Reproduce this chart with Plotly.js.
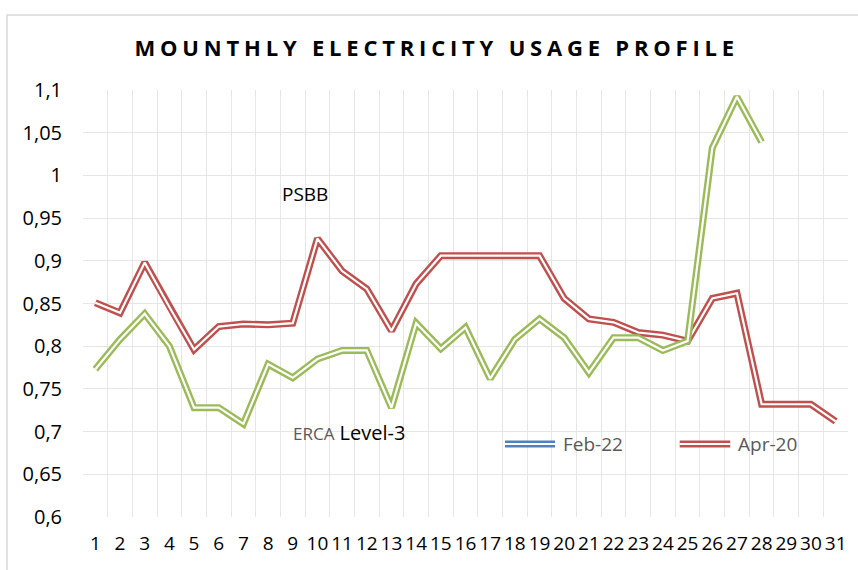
<!DOCTYPE html>
<html>
<head>
<meta charset="utf-8">
<script src="https://cdn.plot.ly/plotly-3.0.1.min.js"></script>
<style>html,body{margin:0;padding:0;background:#fff;}#chart{width:858px;height:570px;}</style>
</head>
<body>
<div id="chart"></div>
<script>
var days = ["1","2","3","4","5","6","7","8","9","10","11","12","13","14","15","16","17","18","19","20","21","22","23","24","25","26","27","28","29","30","31"];
var feb22 = [0.773,0.808,0.838,0.800,0.728,0.728,0.709,0.779,0.763,0.785,0.795,0.795,0.728,0.827,0.797,0.822,0.762,0.808,0.832,0.810,0.769,0.810,0.810,0.795,0.806,1.032,1.092,1.039];
var apr20 = [0.851,0.839,0.898,0.846,0.796,0.823,0.826,0.825,0.827,0.926,0.888,0.867,0.818,0.873,0.906,0.906,0.906,0.906,0.906,0.856,0.832,0.828,0.816,0.813,0.806,0.856,0.862,0.732,0.732,0.732,0.712];
var yTickVals = [0.6,0.65,0.7,0.75,0.8,0.85,0.9,0.95,1,1.05,1.1];
var yTickText = ["0,6","0,65","0,7","0,75","0,8","0,85","0,9","0,95","1","1,05","1,1"];

var GREEN = "#9BBB59", RED = "#C0504D", BLUE = "#4F81BD";

function dbl(y, color) {
  var xs = days.slice(0, y.length);
  return [
    {type:"scatter", mode:"lines", x:xs, y:y, line:{color:color, width:7}, showlegend:false, hoverinfo:"skip"},
    {type:"scatter", mode:"lines", x:xs, y:y, line:{color:"#ffffff", width:2.2}, showlegend:false, hoverinfo:"skip"}
  ];
}

var data = [].concat(dbl(apr20, RED), dbl(feb22, GREEN));

function legLine(x0, x1, y, color) {
  return [
    {type:"line", xref:"paper", yref:"paper", x0:x0, x1:x1, y0:y, y1:y, line:{color:color, width:7}},
    {type:"line", xref:"paper", yref:"paper", x0:x0, x1:x1, y0:y, y1:y, line:{color:"#ffffff", width:2.2}}
  ];
}

var shapes = [
  {type:"rect", xref:"paper", yref:"paper", x0:-0.0993, x1:1.2, y0:-0.3, y1:1.1756, line:{color:"#d9d9d9", width:1.5}, fillcolor:"rgba(0,0,0,0)", layer:"below"}
].concat(legLine(0.5516, 0.617, 0.171, BLUE), legLine(0.780, 0.846, 0.171, RED));

var layout = {
  width: 858, height: 570,
  margin: {l: 83, r: 10, t: 90, b: 53},
  paper_bgcolor: "#ffffff", plot_bgcolor: "#ffffff",
  showlegend: false,
  title: {
    text: '<span style="letter-spacing:4.8px">MOUNTHLY ELECTRICITY USAGE PROFILE</span>',
    font: {family: "Open Sans", size: 22, color: "#000000", weight: "bold"},
    x: 0.509, xanchor: "center", y: 0.916, yanchor: "middle"
  },
  xaxis: {
    type: "category", tickson: "boundaries",
    range: [-0.5, 30.5],
    showgrid: true, gridcolor: "#e6e6e6", gridwidth: 1,
    showline: false, zeroline: false, ticks: "",
    tickangle: 0,
    tickfont: {family: "Open Sans", size: 19, color: "#000000"},
    ticklabelstandoff: 13,
    fixedrange: true
  },
  yaxis: {
    range: [0.6, 1.1],
    tickvals: yTickVals, ticktext: yTickText,
    showgrid: true, gridcolor: "#e6e6e6", gridwidth: 1,
    zeroline: false, showline: false, ticks: "",
    tickfont: {family: "Open Sans", size: 20, color: "#000000"},
    ticklabelstandoff: 20,
    fixedrange: true
  },
  shapes: shapes,
  annotations: [
    {xref:"paper", yref:"paper", x:0.290, y:0.756, xanchor:"center", yanchor:"middle", text:"PSBB", showarrow:false, font:{family:"Open Sans", size:19, color:"#000000"}},
    {xref:"paper", yref:"paper", x:0.348, y:0.197, xanchor:"center", yanchor:"middle", text:'<span style="color:#595959;font-size:17px">ERCA</span> Level-3', showarrow:false, font:{family:"Open Sans", size:20, color:"#000000"}},
    {xref:"paper", yref:"paper", x:0.625, y:0.171, xanchor:"left", yanchor:"middle", text:"Feb-22", showarrow:false, font:{family:"Open Sans", size:19, color:"#595959"}},
    {xref:"paper", yref:"paper", x:0.854, y:0.171, xanchor:"left", yanchor:"middle", text:"Apr-20", showarrow:false, font:{family:"Open Sans", size:19, color:"#595959"}}
  ]
};

Plotly.newPlot("chart", data, layout, {staticPlot: true, displayModeBar: false});
</script>
</body>
</html>
